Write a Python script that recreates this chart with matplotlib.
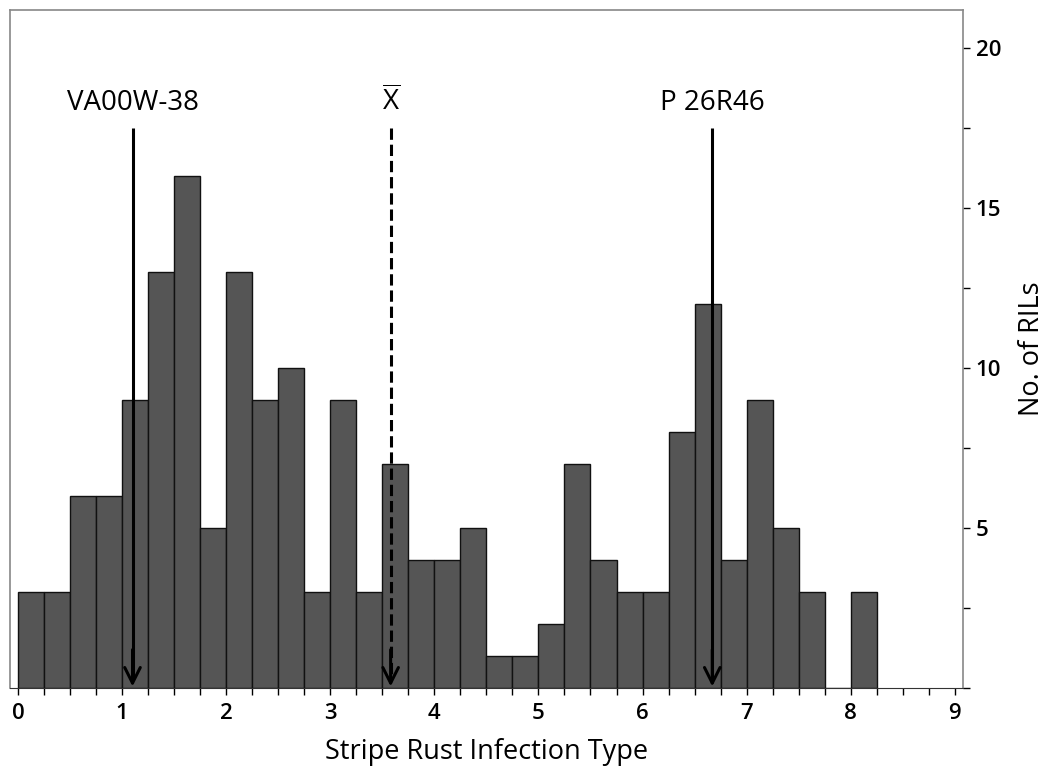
import numpy as np
import matplotlib
matplotlib.use("Agg")
import matplotlib.pyplot as plt
from matplotlib.ticker import MultipleLocator

plt.rcParams["font.family"] = ["Open Sans", "DejaVu Sans"]
plt.rcParams["mathtext.fontset"] = "custom"
plt.rcParams["mathtext.rm"] = "Open Sans"

# histogram of infection type, bin width 0.25 starting at 0
bin_edges = np.arange(0, 8.26, 0.25)
counts = [3, 3, 6, 6, 9, 13, 16, 5, 13, 9, 10, 3, 9, 3, 7, 4,
          4, 5, 1, 1, 2, 7, 4, 3, 3, 8, 12, 4, 9, 5, 3, 0, 3]

# markers: parents and population mean
marker_names = ["VA00W-38", r"$\overline{\mathrm{X}}$", "P 26R46"]
marker_x = [1.1, 3.58, 6.67]
marker_styles = ["-", "--", "-"]

x_ticks = list(range(0, 10))
y_ticks = [5, 10, 15, 20]

fig = plt.figure(figsize=(10.52, 7.74), dpi=100)
ax = fig.add_axes([0.0095, 0.111, 0.906, 0.876])

ax.bar(bin_edges[:-1], counts, width=0.25, align="edge",
       color="#555555", edgecolor="#111111", linewidth=1.0, zorder=2)

for name, xm, ls in zip(marker_names, marker_x, marker_styles):
    # shaft (solid or dashed), then a solid open arrow head at the axis
    ax.plot([xm, xm], [17.5, 0.3], color="black", lw=2.2, ls=ls,
            solid_capstyle="butt", zorder=3)
    ax.annotate("", xy=(xm, 0.05), xytext=(xm, 1.2),
                arrowprops=dict(arrowstyle="->", color="black", lw=2.2,
                                mutation_scale=28, shrinkA=0, shrinkB=0),
                zorder=3)
    ax.text(xm, 17.85, name, ha="center", va="bottom", fontsize=20)

ax.set_xlim(-0.077, 9.08)
ax.set_ylim(0, 21.2)

ax.yaxis.tick_right()
ax.yaxis.set_label_position("right")
ax.set_yticks(y_ticks)
ax.yaxis.set_minor_locator(MultipleLocator(2.5))
ax.set_xticks(x_ticks)
ax.xaxis.set_minor_locator(MultipleLocator(0.25))

ax.tick_params(axis="x", which="both", direction="out", length=5, width=1,
               labelsize=16, pad=6)
ax.tick_params(axis="y", which="both", direction="out", length=5, width=1,
               labelsize=16, pad=4)
for lab in ax.get_xticklabels() + ax.get_yticklabels():
    lab.set_fontweight("semibold")

for side in ["left", "top", "right"]:
    ax.spines[side].set_color("#888888")
    ax.spines[side].set_linewidth(1.2)
ax.spines["bottom"].set_color("#333333")

ax.set_xlabel("Stripe Rust Infection Type", fontsize=19.5, labelpad=10)
ax.set_ylabel("No. of RILs", fontsize=19.5, labelpad=12)

plt.savefig("out.png", dpi=100)
